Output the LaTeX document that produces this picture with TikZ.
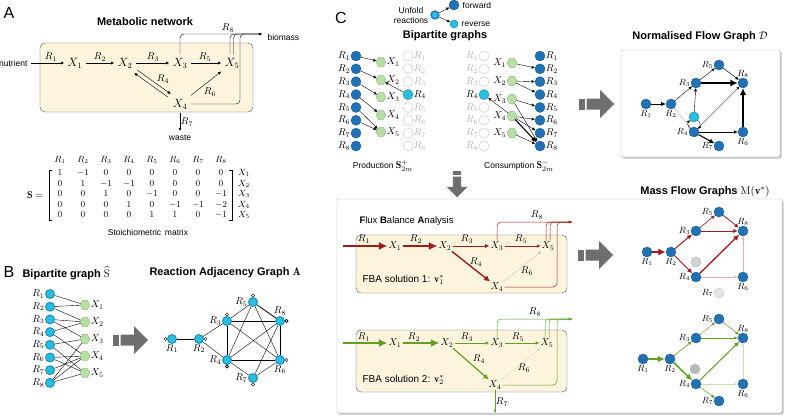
\documentclass[tikz,border=0pt]{standalone}
\usepackage{fontspec}
\setsansfont{Liberation Sans}
\usepackage{amsmath}
\usetikzlibrary{calc, positioning, matrix, shapes.geometric, arrows.meta, shadows}
\definecolor{dblue}{RGB}{33,113,181}
\definecolor{lcyan}{RGB}{40,190,222}
\definecolor{cyanb}{RGB}{25,130,180}
\definecolor{lgreen}{RGB}{184,222,166}
\definecolor{dgreen}{RGB}{140,186,122}
\definecolor{boxfill}{RGB}{252,244,221}
\definecolor{fbared}{RGB}{158,28,28}
\definecolor{fbagreen}{RGB}{96,160,32}
\definecolor{arrgray}{RGB}{110,110,110}
% block arrow: position, rotation, scale
\newcommand{\grayarrow}[3]{%
  \begin{scope}[shift={#1}, rotate=#2, scale=#3]
    \fill[arrgray] (0,-5.5) rectangle (5.5,5.5);
    \fill[arrgray] (7.5,-5.5) -- (21,-5.5) -- (21,-14) -- (35,0) -- (21,14) -- (21,5.5) -- (7.5,5.5) -- cycle;
  \end{scope}}

\begin{document}
\begin{tikzpicture}[x=1pt, y=-1pt, >={Latex[length=2pt 3, width=2pt 2.8]},
                rn/.style={circle, draw=dblue!80!black, fill=dblue, minimum size=10pt, inner sep=0pt},
                cy/.style={rn, draw=cyanb, fill=lcyan},
                fd/.style={circle, draw=gray!45, fill=white, minimum size=10pt, inner sep=0pt},
                gn/.style={rn, draw=gray!60, fill=gray!35},
                mt/.style={regular polygon, regular polygon sides=6, draw=dgreen, fill=lgreen, minimum size=10pt, inner sep=0pt},
                bn/.style={circle, draw=cyanb, fill=lcyan, thick, minimum size=9pt, inner sep=0pt},
                lb/.style={font=\normalsize, inner sep=0.5pt},
                lc/.style={font=\small, inner sep=0.5pt},
                xn/.style={font=\normalsize, inner sep=1pt},
                ttl/.style={font=\sffamily\bfseries\fontsize{11}{13}\selectfont},
                pan/.style={font=\sffamily\fontsize{16}{18}\selectfont},
                sm/.style={font=\sffamily\fontsize{8.5}{10}\selectfont},
                yb/.style={draw=gray!70!black, fill=boxfill, rounded corners=5pt},
                wb/.style={draw=gray!60, fill=white, rounded corners=2pt, drop shadow={shadow xshift=1.5pt, shadow yshift=-1.5pt, opacity=0.5, fill=gray}},
                rdl/.style={fbared, ->},
                gnl/.style={fbagreen, ->}]

    \useasboundingbox (0,0) rectangle (785,418); % same size as the reference

    % ---------------- A: metabolic network
    \node[pan] (pa) at (9,13) {A};
    \node[ttl] (ta) at (145,22) {Metabolic network};
    \draw[yb] (40,43) rectangle (253,112);
    \node[sm, anchor=east] (nut) at (31,63) {nutrient};
    \node[font=\large] (x1) at (75,63) {$X_1$};
    \node[font=\large] (x2) at (125,63) {$X_2$};
    \node[font=\large] (x3) at (180,63) {$X_3$};
    \node[font=\large] (x5) at (232,63) {$X_5$};
    \node[font=\large] (x4) at (180,104) {$X_4$};
    \coordinate (bio8) at (262,34);
    \coordinate (w7) at (180,131);
    \node[sm, anchor=west] (bio) at (264,37) {biomass};
    \node[sm] (wst) at (180,138) {waste};
    \draw[->] (nut) -- (x1);
    \draw[->] (x1) -- (x2);
    \draw[->] (x2) -- (x3);
    \draw[->] (x3) -- (x5);
    \draw[->] ([xshift=1.5pt, yshift=1.5pt]x2.south east) -- ([xshift=1.5pt, yshift=1.5pt]x4.north west);
    \draw[->] ([xshift=-1.5pt, yshift=-1.5pt]x4.north west) -- ([xshift=-1.5pt, yshift=-1.5pt]x2.south east);
    \draw[->] (x4) -- (x5);
    \draw[->] (x4) -- (w7);
    \draw[->, rounded corners=4pt] (x3) |- (bio8);
    \draw[rounded corners=4pt] ([xshift=-2pt]x5.north) |- (bio8);
    \draw[rounded corners=4pt] ([xshift=1.5pt]x5.north) |- (bio8);
    \draw[rounded corners=4pt] (x4.east) -| ($(bio8)+(-22,0)$) -- (bio8);
    \node[lb] (l1) at (51,57) {$R_1$};
    \node[lb] (l2) at (100,57) {$R_2$};
    \node[lb] (l3) at (153,57) {$R_3$};
    \node[lb] (l5) at (205,57) {$R_5$};
    \node[lb] (l4) at (163,79) {$R_4$};
    \node[lb] (l6) at (210,92) {$R_6$};
    \node[lb] (l8) at (228,28) {$R_8$};
    \node[lb] (l7) at (187,122) {$R_7$};

    % stoichiometric matrix
    \matrix (smat) [matrix of math nodes, nodes={minimum width=20pt, text height=6pt, text depth=2pt, inner sep=0pt, font=\small},
                    column sep=3pt, row sep=2.4pt] at (152,188) {
      R_1 & R_2 & R_3 & R_4 & R_5 & R_6 & R_7 & R_8 & \\[3pt]
      1 & -1 & 0 & 0 & 0 & 0 & 0 & 0 & X_1 \\
      0 & 1 & -1 & -1 & 0 & 0 & 0 & 0 & X_2 \\
      0 & 0 & 1 & 0 & -1 & 0 & 0 & -1 & X_3 \\
      0 & 0 & 0 & 1 & 0 & -1 & -1 & -2 & X_4 \\
      0 & 0 & 0 & 0 & 1 & 1 & 0 & -1 & X_5 \\
    };
    \draw ([xshift=2pt]smat-2-1.north west) -- ([xshift=-1pt]smat-2-1.north west) -- ([xshift=-1pt]smat-6-1.south west) -- ([xshift=2pt]smat-6-1.south west);
    \draw ([xshift=-2pt]smat-2-8.north east) -- ([xshift=1pt]smat-2-8.north east) -- ([xshift=1pt]smat-6-8.south east) -- ([xshift=-2pt]smat-6-8.south east);
    \node[anchor=east] (seq) at ([xshift=-3pt]smat-4-1.west) {$\mathbf{S} =$};
    \node[sm] (stl) at (148,232) {Stoichiometric\, matrix};

    % ---------------- B: bipartite graph and adjacency graph
    \node[pan] (pb) at (9,272) {B};
    \node[ttl, anchor=west] (tb) at (19,273) {Bipartite graph $\widehat{\mathrm{S}}$};
    \node[ttl, anchor=west] (tad) at (146,273) {Reaction Adjacency Graph $\mathbf{A}$};
    \foreach \i [evaluate=\i as \y using 294+12.7*(\i-1)] in {1,...,8}
      \node[bn, label={[lb]left:$R_{\i}$}] (rb\i) at (50,\y) {};
    \foreach \i/\y in {1/305, 2/322, 3/339, 4/356, 5/373}
      \node[mt, label={[lb]right:$X_{\i}$}] (xb\i) at (85,\y) {};
    \foreach \r/\m in {1/1, 2/1, 2/2, 3/2, 4/2, 3/3, 5/3, 8/3, 4/4, 6/4, 7/4, 8/4, 5/5, 6/5, 8/5}
      \draw (rb\r) -- (xb\m);

    \grayarrow{(113,340)}{0}{1}

    \node[bn, label={[lb]below:$R_1$}] (ad1) at (172,339) {};
    \node[bn, label={[lb]below:$R_2$}] (ad2) at (199,339) {};
    \node[bn, label={[lb]left:$R_3$}] (ad3) at (227,321) {};
    \node[bn, label={[lb]left:$R_4$}] (ad4) at (227,360) {};
    \node[bn, label={[lb]left:$R_5$}] (ad5) at (253,302) {};
    \node[bn, label={[lb]left:$R_7$}] (ad7) at (253,378) {};
    \node[bn, label={[lb]above:$R_8$}] (ad8) at (280,321) {};
    \node[bn, label={[lb]below:$R_6$}] (ad6) at (280,360) {};
    \foreach \a/\b in {1/2, 2/3, 2/4, 3/4, 3/5, 3/8, 3/6, 4/6, 4/7, 4/8, 4/5, 5/6, 6/7, 6/8, 7/8}
      \draw (ad\a) -- (ad\b);
    \draw[thick] (ad5) -- (ad8);
    % self loops
    \draw (ad1.west) ++(-1.6,0) circle (1.6pt);
    \draw (ad2.east) ++(1.6,0) circle (1.6pt);
    \draw (ad3.north) ++(0,-1.6) circle (1.6pt);
    \draw[thick] (ad4.south) ++(0,1.6) circle (1.6pt);
    \draw (ad5.north) ++(0,-1.6) circle (1.6pt);
    \draw (ad7.south) ++(0,1.6) circle (1.6pt);
    \draw[thick] (ad8.east) ++(1.6,0) circle (1.6pt);
    \draw (ad6.east) ++(1.6,0) circle (1.6pt);

    % ---------------- C: unfolded bipartite graphs
    \node[pan] (pc) at (341,18) {C};
    \node[sm, align=center] (unf) at (411,15) {Unfold\\reactions};
    \node[cy, draw=dblue, very thick, minimum size=8pt] (uc) at (435,15) {};
    \node[rn, label={[sm]right:forward}] (uf) at (454,5) {};
    \node[cy, minimum size=8pt, label={[sm]right:reverse}] (ur) at (454,24) {};
    \draw[->] (uc) -- (uf);
    \draw[->] (uc) -- (ur);
    \node[ttl] (tbg) at (445,36) {Bipartite graphs};

    % production
    \foreach \i [evaluate=\i as \y using 56+12.86*(\i-1)] in {1,...,8}
      \node[rn, label={[lb]left:$R_{\i}$}] (pr\i) at (356,\y) {};
    \foreach \i/\y in {1/62, 2/80, 3/97, 4/115, 5/132}
      \node[mt, label={[lb]right:$X_{\i}$}] (px\i) at (381,\y) {};
    \foreach \i [evaluate=\i as \y using 56+12.86*(\i-1)] in {1,2,3,5,6,7,8}
      \node[fd, label={[lb, gray!60]right:$R_{\i}$}] (pf\i) at (408,\y) {};
    \node[cy, label={[lb]right:$R_4$}] (pf4) at (408,94.6) {};
    \draw[->] (pr1) -- (px1);
    \draw[->] (pr2) -- (px2);
    \draw[->] (pr3) -- (px3);
    \draw[->] (pr4) -- (px4);
    \draw[->] (pr5) -- (px5);
    \draw[->] (pr6) -- (px5);
    \draw[->] (pf4) -- (px2);
    \node[sm] (prl) at (383,166) {Production {\normalsize$\mathbf{S}^+_{2m}$}};

    % consumption
    \foreach \i [evaluate=\i as \y using 56+12.86*(\i-1)] in {1,2,3,5,6,7,8}
      \node[fd, label={[lb, gray!60]left:$R_{\i}$}] (cf\i) at (484,\y) {};
    \node[cy, label={[lb]left:$R_4$}] (cf4) at (484,94.6) {};
    \foreach \i/\y in {1/63, 2/81, 3/99, 4/116, 5/133}
      \node[mt, label={[lb]left:$X_{\i}$}] (cx\i) at (512,\y) {};
    \foreach \i [evaluate=\i as \y using 56+12.86*(\i-1)] in {1,...,8}
      \node[rn, label={[lb]right:$R_{\i}$}] (cr\i) at (540,\y) {};
    \draw[->] (cx1) -- (cr2);
    \draw[->] (cx2) -- (cr3);
    \draw[->] (cx2) -- (cr4);
    \draw[->] (cx3) -- (cr5);
    \draw[->] (cx3) -- (cr8);
    \draw[->] (cx4) -- (cr6);
    \draw[->] (cx4) -- (cr7);
    \draw[->, line width=1.1pt] (cx4) -- (cr8);
    \draw[->] (cx5) -- (cr8);
    \draw[->] (cx4) -- (cf4);
    \node[sm] (csl) at (519,166) {Consumption {\normalsize$\mathbf{S}^-_{2m}$}};

    \grayarrow{(457,171)}{-90}{0.75}
    \grayarrow{(579,104)}{0}{1}

    % normalised flow graph
    \node[ttl] (tnf) at (700,37) {Normalised Flow Graph $\mathcal{D}$};
    \draw[wb] (621,50) rectangle (780,157);
    \node[rn, label={[lc]below:$R_1$}] (n1) at (646,104) {};
    \node[rn, label={[lc]below:$R_2$}] (n2) at (671,104) {};
    \node[rn, label={[lc]left:$R_3$}] (n3) at (696,83) {};
    \node[rn, label={[lc]left:$R_5$}] (n5) at (719,65) {};
    \node[rn, label={[lc]above:$R_8$}] (n8) at (743,83) {};
    \node[cy] (n4c) at (694,117) {};
    \node[rn, label={[lc]left:$R_4$}] (n4) at (694,132) {};
    \node[rn, label={[lc]below:$R_6$}] (n6) at (743,132) {};
    \node[rn, label={[lc]left:$R_7$}] (n7) at (719,146) {};
    \draw[->, line width=0.9pt] (n1) -- (n2);
    \draw[->, line width=0.4pt] (n2) -- (n3);
    \draw[->, gray!60, line width=0.4pt] (n2) -- (n4);
    \draw[->, line width=0.4pt] (n3) -- (n5);
    \draw[->, line width=0.5pt] (n5) -- (n8);
    \draw[->, line width=1.8pt] (n3) -- (n8);
    \draw[->, line width=0.4pt] (n4c) -- (n3);
    \draw[->, line width=0.3pt] (n4) -- (n8);
    \draw[->, line width=0.6pt] (n4) -- (n6);
    \draw[->, line width=1.1pt] (n4) -- (n7);
    \draw[->, line width=1.6pt] (n6) -- (n8);
    \draw[->, line width=0.3pt] (n4) to[bend left=50] (n4c);
    \draw[->, line width=0.3pt] (n4c) to[bend left=50] (n4);

    % ---------------- FBA and mass flow graphs
    \draw[wb] (337,199) rectangle (782,413);
    \node[font=\sffamily\fontsize{9.5}{11}\selectfont, anchor=west] (tfba) at (356,221) {\textbf{F}lux \textbf{B}alance \textbf{A}nalysis};
    \node[ttl] (tmf) at (705,192) {Mass Flow Graphs $\mathrm{M}(\mathbf{v}^*)$};
    \grayarrow{(578,255)}{0}{1}

    % solution 1
    \draw[yb] (356,235) rectangle (567,293);
    \node[font=\sffamily\fontsize{10}{12}\selectfont, anchor=west] (s1) at (359,280) {FBA solution 1: $\mathbf{v}_1^*$};
    \coordinate (f1in) at (343,246);
    \coordinate (f1b) at (572,222);
    \node[xn] (f1x1) at (395,246) {$X_1$};
    \node[xn] (f1x2) at (445,246) {$X_2$};
    \node[xn] (f1x3) at (497,246) {$X_3$};
    \node[xn] (f1x5) at (548,246) {$X_5$};
    \node[xn] (f1x4) at (497,287) {$X_4$};
    \draw[rdl, line width=2.2pt] (f1in) -- (f1x1);
    \draw[rdl, line width=2.2pt] (f1x1) -- (f1x2);
    \draw[rdl, line width=0.8pt] (f1x2) -- (f1x3);
    \draw[rdl, line width=0.4pt] (f1x3) -- (f1x5);
    \draw[rdl, line width=1.4pt] (f1x2) -- (f1x4);
    \draw[rdl, fbared!35, line width=0.3pt] (f1x4) -- (f1x5);
    \draw[rdl, line width=0.5pt, rounded corners=4pt] (f1x3) |- (f1b);
    \draw[fbared, line width=0.5pt, rounded corners=4pt] ([xshift=-2pt]f1x5.north) |- (f1b);
    \draw[fbared, line width=0.5pt, rounded corners=4pt] ([xshift=2pt]f1x5.north) |- (f1b);
    \draw[fbared, line width=0.5pt, rounded corners=4pt] (f1x4.east) -| ($(f1b)+(-15,0)$) -- (f1b);
    \node[lb] (f1l1) at (364,239) {$R_1$};
    \node[lb] (f1l2) at (416,239) {$R_2$};
    \node[lb] (f1l3) at (467,239) {$R_3$};
    \node[lb] (f1l5) at (521,239) {$R_5$};
    \node[lb] (f1l4) at (476,262) {$R_4$};
    \node[lb] (f1l6) at (527,271) {$R_6$};
    \node[lb] (f1l8) at (537,215) {$R_8$};

    % solution 2
    \draw[yb] (356,330) rectangle (567,392);
    \node[font=\sffamily\fontsize{10}{12}\selectfont, anchor=west] (s2) at (359,380) {FBA solution 2: $\mathbf{v}_2^*$};
    \coordinate (f2in) at (343,343);
    \coordinate (f2b) at (572,319);
    \coordinate (f2w) at (495,413);
    \node[xn] (f2x1) at (395,343) {$X_1$};
    \node[xn] (f2x2) at (447,343) {$X_2$};
    \node[xn] (f2x3) at (497,343) {$X_3$};
    \node[xn] (f2x5) at (547,343) {$X_5$};
    \node[xn] (f2x4) at (495,385) {$X_4$};
    \draw[gnl, line width=2.2pt] (f2in) -- (f2x1);
    \draw[gnl, line width=2.2pt] (f2x1) -- (f2x2);
    \draw[gnl, line width=0.6pt] (f2x2) -- (f2x3);
    \draw[gnl, line width=0.6pt] (f2x3) -- (f2x5);
    \draw[gnl, line width=1.2pt] (f2x2) -- (f2x4);
    \draw[gnl, fbagreen!35, line width=0.3pt] (f2x4) -- (f2x5);
    \draw[gnl, line width=0.4pt] (f2x4) -- (f2w);
    \draw[gnl, line width=0.5pt, rounded corners=4pt] (f2x3) |- (f2b);
    \draw[fbagreen, line width=0.5pt, rounded corners=4pt] ([xshift=-2pt]f2x5.north) |- (f2b);
    \draw[fbagreen, line width=0.5pt, rounded corners=4pt] ([xshift=2pt]f2x5.north) |- (f2b);
    \draw[fbagreen, line width=0.5pt, rounded corners=4pt] (f2x4.east) -| ($(f2b)+(-15,0)$) -- (f2b);
    \node[lb] (f2l1) at (364,337) {$R_1$};
    \node[lb] (f2l2) at (414,337) {$R_2$};
    \node[lb] (f2l3) at (467,337) {$R_3$};
    \node[lb] (f2l5) at (518,337) {$R_5$};
    \node[lb] (f2l4) at (479,359) {$R_4$};
    \node[lb] (f2l6) at (524,368) {$R_6$};
    \node[lb] (f2l8) at (535,312) {$R_8$};
    \node[lb] (f2l7) at (502,402) {$R_7$};

    % mass flow graph 1
    \node[rn, label={[lc]below:$R_1$}] (m1r1) at (647,252) {};
    \node[rn, label={[lc]below:$R_2$}] (m1r2) at (671,252) {};
    \node[rn, label={[lc]left:$R_3$}] (m1r3) at (696,231) {};
    \node[rn, label={[lc]left:$R_5$}] (m1r5) at (719,212) {};
    \node[rn, label={[lc]above:$R_8$}] (m1r8) at (743,231) {};
    \node[gn] (m1g4) at (696,262) {};
    \node[rn, label={[lc]left:$R_4$}] (m1r4) at (696,277) {};
    \node[rn, label={[lc]below:$R_6$}] (m1r6) at (743,277) {};
    \node[gn, fill=gray!20, draw=gray!40, label={[lc]left:$R_7$}] (m1r7) at (719,293) {};
    \draw[rdl, line width=1.8pt] (m1r1) -- (m1r2);
    \draw[rdl, line width=1pt] (m1r2) -- (m1r3);
    \draw[rdl, line width=1pt] (m1r2) -- (m1r4);
    \draw[rdl, line width=0.6pt] (m1r3) -- (m1r5);
    \draw[rdl, line width=0.8pt] (m1r5) -- (m1r8);
    \draw[rdl, line width=0.8pt] (m1r3) -- (m1r8);
    \draw[rdl, line width=1.3pt] (m1r4) -- (m1r8);
    \draw[rdl, fbared!35, line width=0.4pt] (m1r4) -- (m1r6);
    \draw[rdl, fbared!35, line width=0.4pt] (m1r6) -- (m1r8);

    % mass flow graph 2
    \node[rn, label={[lc]below:$R_1$}] (m2r1) at (643,359) {};
    \node[rn, label={[lc]below:$R_2$}] (m2r2) at (670,359) {};
    \node[rn, label={[lc]left:$R_3$}] (m2r3) at (696,338) {};
    \node[rn, label={[lc]left:$R_5$}] (m2r5) at (719,319) {};
    \node[rn, label={[lc]above:$R_8$}] (m2r8) at (743,338) {};
    \node[gn, fill=gray!55] (m2g4) at (695,369) {};
    \node[rn, label={[lc]left:$R_4$}] (m2r4) at (696,384) {};
    \node[rn, label={[lc]below:$R_6$}] (m2r6) at (743,384) {};
    \node[rn, label={[lc]left:$R_7$}] (m2r7) at (719,401) {};
    \draw[gnl, line width=1.6pt] (m2r1) -- (m2r2);
    \draw[gnl, line width=0.6pt] (m2r2) -- (m2r3);
    \draw[gnl, line width=1.5pt] (m2r2) -- (m2r4);
    \draw[gnl, line width=0.4pt] (m2r3) -- (m2r5);
    \draw[gnl, line width=0.5pt] (m2r5) -- (m2r8);
    \draw[gnl, line width=0.5pt] (m2r3) -- (m2r8);
    \draw[gnl, line width=1pt] (m2r4) -- (m2r8);
    \draw[gnl, fbagreen!35, line width=0.4pt] (m2r4) -- (m2r6);
    \draw[gnl, fbagreen!35, line width=0.4pt] (m2r6) -- (m2r8);
    \draw[gnl, line width=0.5pt] (m2r4) -- (m2r7);

\end{tikzpicture}
\end{document}
